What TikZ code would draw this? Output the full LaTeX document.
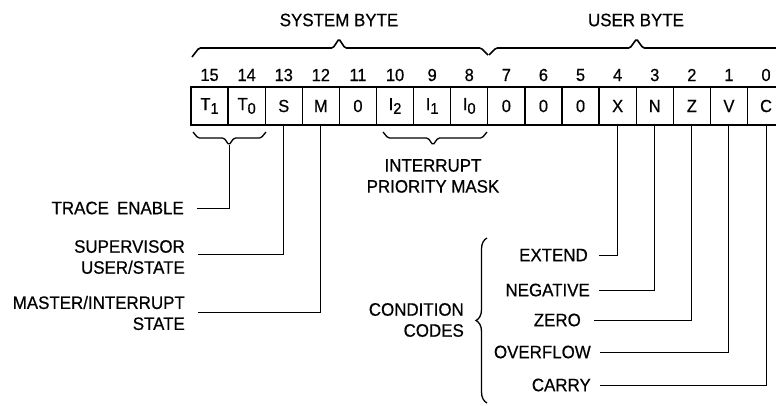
\documentclass[tikz,border=0pt]{standalone}
\usepackage{fontspec}
\setmainfont{Liberation Sans}[FakeStretch=0.94,FakeBold=0.6]
\usetikzlibrary{decorations.pathreplacing}
\newcommand\sbs[1]{\raisebox{-0.4ex}{\fontsize{15.5}{15.5}\selectfont #1}}
\begin{document}
\begin{tikzpicture}[x=1pt,y=-1pt,
  cell/.style={draw,line width=1.3pt,minimum width=37.1pt,minimum height=38pt,inner sep=0pt,font=\fontsize{17.5}{17.5}\selectfont},
  bitnum/.style={inner sep=0pt,font=\fontsize{17.5}{17.5}\selectfont},
  title/.style={inner sep=0pt,font=\fontsize{18}{21}\selectfont},
  lbl/.style={inner sep=0pt,font=\fontsize{18}{21}\selectfont,align=right,anchor=east},
  conn/.style={line width=1pt},
  brc/.style={line width=1.6pt,rounded corners=1.5pt},
  sbrc/.style={line width=1.3pt,rounded corners=1.5pt}]
\useasboundingbox (0,0) rectangle (776,405);
\clip (0,0) rectangle (776,405);

% titles
\node[title] (sys) at (339,20) {SYSTEM BYTE};
\node[title] (usr) at (636,20) {USER BYTE};

% top braces
\draw[brc] (192,57) -- (199,48) -- (333,48) -- (339,39) -- (345,48) -- (481,48) -- (488,55);
\draw[brc] (489,55) -- (496,48) -- (630,48) -- (636.5,39) -- (643,48) -- (777,48) -- (784,56);

% bit numbers
\foreach \b in {0,...,15}
  \node[bitnum] (n\b) at ({209.55+37.1*(15-\b)},75) {\b};

% cells
\foreach \b/\t in {15/T\sbs{1},14/T\sbs{0},13/S,12/M,11/0,10/I\sbs{2},9/I\sbs{1},8/I\sbs{0},7/0,6/0,5/0,4/X,3/N,2/Z,1/V,0/C}
  \node[cell] (c\b) at ({209.55+37.1*(15-\b)},106) {\t};

% lower braces
\draw[sbrc] (193,132) -- (198,138) -- (224,138) -- (229,145) -- (234,138) -- (261,138) -- (266,132);
\coordinate (ttip) at (229,145);
\draw[sbrc] (383,132) -- (388,138) -- (428,138) -- (433,145) -- (438,138) -- (482,138) -- (487,132);

% left labels
\node[lbl] (ltr) at (184,208) {TRACE\hspace{0.45em}ENABLE};
\node[lbl] (lsu) at (185,257) {SUPERVISOR\\USER/STATE};
\node[lbl] (lms) at (185,313) {MASTER/INTERRUPT\\STATE};
\node[title,align=center] (lint) at (433,176) {INTERRUPT\\PRIORITY MASK};

\coordinate (etr) at (197,208);
\coordinate (esu) at (198,254);
\coordinate (ems) at (198,312);
\draw[conn] (ttip) |- (etr);
\draw[conn] (c13.south) |- (esu);
\draw[conn] (c12.south) |- (ems);

% condition codes
\node[lbl] (lcc) at (464,320) {CONDITION\\CODES};
\draw[line width=1.3pt,decorate,decoration={brace,amplitude=11pt}] (487,403) -- (487,238);

\node[lbl] (lx) at (588,255) {EXTEND};
\node[lbl] (ln) at (590,290) {NEGATIVE};
\node[lbl] (lz) at (581,320) {ZERO};
\node[lbl] (lv) at (591,352) {OVERFLOW};
\node[lbl] (lc) at (591,385) {CARRY};

\coordinate (ex) at (599,255);
\coordinate (en) at (599,290);
\coordinate (ez) at (594,320);
\coordinate (ev) at (600,352);
\coordinate (ec) at (600,385);
\draw[conn] (c4.south) |- (ex);
\draw[conn] (c3.south) |- (en);
\draw[conn] (c2.south) |- (ez);
\draw[conn] (c1.south) |- (ev);
\draw[conn] (c0.south) |- (ec);
\end{tikzpicture}
\end{document}
